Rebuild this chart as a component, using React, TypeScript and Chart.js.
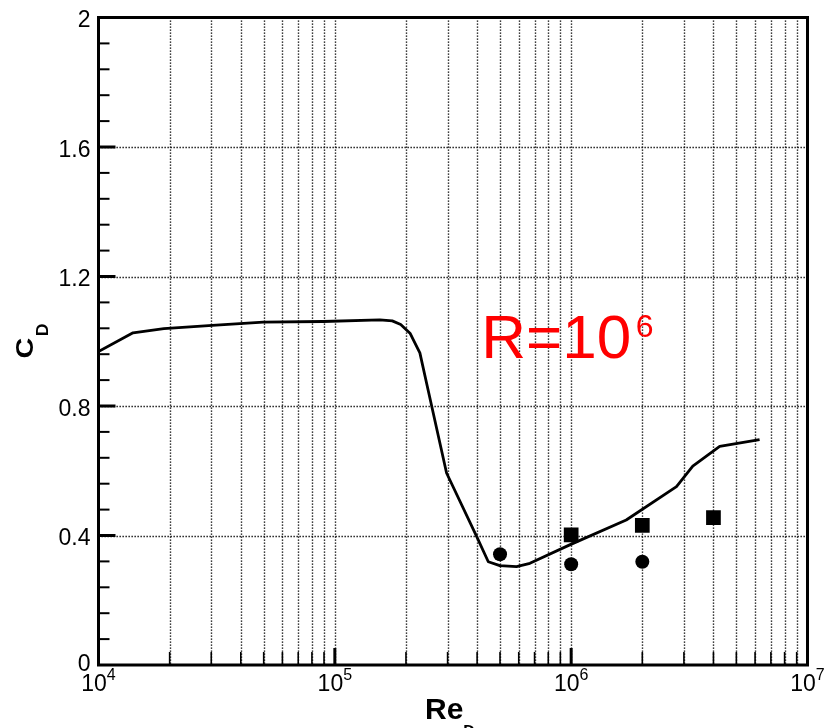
import React, { useEffect, useRef } from "react";
import { Chart, registerables } from "chart.js";

Chart.register(...registerables);

// ---- data ----
const curveRe = [
  10000, 14000, 18900, 30300, 49800, 89000, 155000, 175000, 190000, 208000, 229000,
  248000, 297000, 398000, 446000, 499000, 587000, 669000, 986000, 1710000,
  2790000, 3270000, 4250000, 6270000,
];
const curveCd = [
  0.968, 1.026, 1.039, 1.049, 1.059, 1.061, 1.066, 1.063, 1.052, 1.025, 0.964,
  0.85, 0.593, 0.397, 0.319, 0.307, 0.304, 0.314, 0.371, 0.448,
  0.551, 0.614, 0.675, 0.696,
];
const circleRe = [500000, 1000000, 2000000];
const circleCd = [0.342, 0.311, 0.319];
const squareRe = [1000000, 2000000, 4000000];
const squareCd = [0.402, 0.431, 0.455];

const yMajorTicks = [0, 0.4, 0.8, 1.2, 1.6, 2];
const yTickLabels = ["0", "0.4", "0.8", "1.2", "1.6", "2"];
const yMinorPerMajor = 5;
const xDecades = [1e4, 1e5, 1e6, 1e7];
const xDecadeExponents = ["4", "5", "6", "7"];
const xMinorMultipliers = [2, 3, 4, 5, 6, 7, 8, 9];

const xMin = 1e4;
const xMax = 1e7;
const yMin = 0;
const yMax = 2;

const FONT = "'Liberation Sans', Arial, Helvetica, sans-serif";

const framePlugin = {
  id: "tecplotFrame",
  beforeDraw(chart: any) {
    const { ctx, width, height } = chart;
    ctx.save();
    ctx.fillStyle = "#ffffff";
    ctx.fillRect(0, 0, width, height);
    ctx.restore();
  },
  beforeDatasetsDraw(chart: any) {
    const { ctx, chartArea: a, scales } = chart;
    const x = scales.x;
    const y = scales.y;
    ctx.save();
    ctx.strokeStyle = "#000";
    ctx.lineWidth = 1.4;
    ctx.setLineDash([1.3, 1.7]);
    // vertical grid lines
    for (let d = 0; d < xDecades.length - 1; d++) {
      const vals = [xDecades[d], ...xMinorMultipliers.map((m) => m * xDecades[d])];
      for (const v of vals) {
        if (v <= xMin || v >= xMax) continue;
        const px = Math.round(x.getPixelForValue(v)) + 0.5;
        ctx.beginPath();
        ctx.moveTo(px, a.top);
        ctx.lineTo(px, a.bottom);
        ctx.stroke();
      }
    }
    // horizontal grid lines
    for (const v of yMajorTicks) {
      if (v <= yMin || v >= yMax) continue;
      const py = Math.round(y.getPixelForValue(v)) + 0.5;
      ctx.beginPath();
      ctx.moveTo(a.left, py);
      ctx.lineTo(a.right, py);
      ctx.stroke();
    }
    ctx.restore();
  },
  afterDatasetsDraw(chart: any) {
    const { ctx, chartArea: a, scales } = chart;
    const x = scales.x;
    const y = scales.y;
    ctx.save();
    ctx.setLineDash([]);
    ctx.strokeStyle = "#000";

    // y minor ticks
    ctx.lineWidth = 2;
    for (let i = 0; i < yMajorTicks.length - 1; i++) {
      const lo = yMajorTicks[i];
      const hi = yMajorTicks[i + 1];
      for (let k = 1; k < yMinorPerMajor; k++) {
        const v = lo + ((hi - lo) * k) / yMinorPerMajor;
        const py = y.getPixelForValue(v);
        ctx.beginPath();
        ctx.moveTo(a.left, py);
        ctx.lineTo(a.left + 11, py);
        ctx.stroke();
      }
    }
    // y major ticks
    ctx.lineWidth = 3;
    for (const v of yMajorTicks) {
      if (v <= yMin || v >= yMax) continue;
      const py = y.getPixelForValue(v);
      ctx.beginPath();
      ctx.moveTo(a.left, py);
      ctx.lineTo(a.left + 17, py);
      ctx.stroke();
    }
    // x minor ticks
    ctx.lineWidth = 1.6;
    for (let d = 0; d < xDecades.length - 1; d++) {
      for (const m of xMinorMultipliers) {
        const px = x.getPixelForValue(m * xDecades[d]);
        ctx.beginPath();
        ctx.moveTo(px, a.bottom);
        ctx.lineTo(px, a.bottom - 13);
        ctx.stroke();
      }
    }
    // x major ticks
    ctx.lineWidth = 3;
    for (const v of xDecades) {
      if (v <= xMin || v >= xMax) continue;
      const px = x.getPixelForValue(v);
      ctx.beginPath();
      ctx.moveTo(px, a.bottom);
      ctx.lineTo(px, a.bottom - 17);
      ctx.stroke();
    }
    // frame
    ctx.lineWidth = 3;
    ctx.strokeRect(a.left, a.top, a.right - a.left, a.bottom - a.top);

    // y tick labels
    ctx.fillStyle = "#000";
    ctx.font = `23px ${FONT}`;
    ctx.textAlign = "right";
    ctx.textBaseline = "alphabetic";
    yMajorTicks.forEach((v, i) => {
      const py = y.getPixelForValue(v);
      const base = v === 0 ? py + 5.5 : py + 9.6;
      ctx.fillText(yTickLabels[i], 90.5, base);
    });

    // x tick labels 10^n
    ctx.textAlign = "left";
    xDecades.forEach((v, i) => {
      const px = x.getPixelForValue(v);
      ctx.font = `23px ${FONT}`;
      const w1 = ctx.measureText("10").width;
      ctx.font = `16px ${FONT}`;
      const w2 = ctx.measureText(xDecadeExponents[i]).width;
      const start = px - (w1 + w2) / 2;
      ctx.font = `23px ${FONT}`;
      ctx.fillText("10", start, 690.5);
      ctx.font = `16px ${FONT}`;
      ctx.fillText(xDecadeExponents[i], start + w1, 680);
    });

    // x axis title Re_D
    ctx.font = `bold 30px ${FONT}`;
    ctx.fillText("Re", 425, 719);
    const wRe = ctx.measureText("Re").width;
    ctx.font = `bold 16px ${FONT}`;
    ctx.fillText("D", 425 + wRe, 737);

    // y axis title C_D (rotated)
    ctx.save();
    ctx.translate(33.3, 357.5);
    ctx.rotate(-Math.PI / 2);
    ctx.save();
    ctx.translate(-1, 0);
    ctx.scale(1.25, 1);
    ctx.font = `bold 23px ${FONT}`;
    ctx.fillText("C", 0, 0);
    ctx.restore();
    ctx.save();
    ctx.translate(21.2, 15);
    ctx.scale(1.1, 1);
    ctx.font = `bold 16px ${FONT}`;
    ctx.fillText("D", 0, 0);
    ctx.restore();
    ctx.restore();

    // red annotation R=10^6
    ctx.fillStyle = "#ff0000";
    ctx.font = `62px ${FONT}`;
    ctx.fillText("R=10", 481.2, 358);
    ctx.font = `32px ${FONT}`;
    ctx.fillText("6", 635.7, 336.5);

    ctx.restore();
  },
};

export default function App() {
  const canvasRef = useRef<HTMLCanvasElement | null>(null);

  useEffect(() => {
    const canvas = canvasRef.current;
    if (!canvas) return;
    const chart = new Chart(canvas, {
      type: "scatter",
      data: {
        datasets: [
          {
            label: "curve",
            data: curveRe.map((v, i) => ({ x: v, y: curveCd[i] })),
            showLine: true,
            borderColor: "#000",
            backgroundColor: "#000",
            borderWidth: 2.8,
            pointRadius: 0,
            tension: 0,
            fill: false,
            borderJoinStyle: "round",
          },
          {
            label: "circles",
            data: circleRe.map((v, i) => ({ x: v, y: circleCd[i] })),
            showLine: false,
            pointStyle: "circle",
            pointRadius: 7,
            backgroundColor: "#000",
            borderColor: "#000",
            borderWidth: 0,
          },
          {
            label: "squares",
            data: squareRe.map((v, i) => ({ x: v, y: squareCd[i] })),
            showLine: false,
            pointStyle: "rect",
            pointRadius: 10.4,
            backgroundColor: "#000",
            borderColor: "#000",
            borderWidth: 0,
          },
        ],
      } as any,
      options: {
        responsive: false,
        animation: false,
        devicePixelRatio: 1,
        events: [],
        layout: { padding: { left: 98.5, top: 17.5, right: 25.5, bottom: 63 } },
        plugins: { legend: { display: false }, tooltip: { enabled: false } },
        scales: {
          x: { type: "logarithmic", min: xMin, max: xMax, display: false },
          y: { type: "linear", min: yMin, max: yMax, display: false },
        },
      } as any,
      plugins: [framePlugin],
    });
    return () => chart.destroy();
  }, []);

  return (
    <div style={{ position: "fixed", left: 0, top: 0, width: 833, height: 728, background: "#fff" }}>
      <canvas ref={canvasRef} width={833} height={728} style={{ width: 833, height: 728, display: "block" }} />
    </div>
  );
}
